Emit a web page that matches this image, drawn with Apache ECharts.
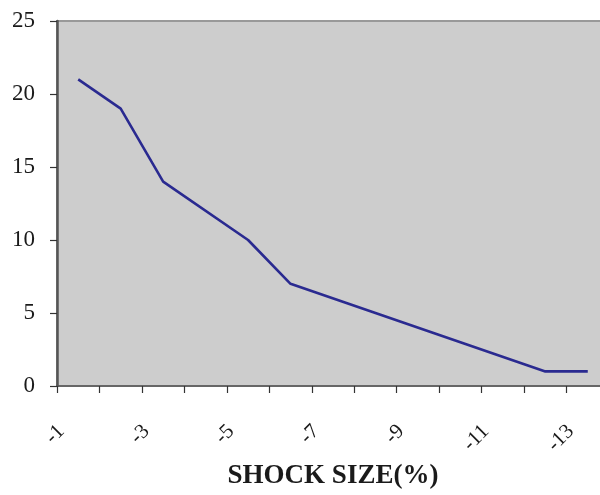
<!DOCTYPE html>
<html><head><meta charset="utf-8">
<script src="https://cdn.jsdelivr.net/npm/echarts@6/dist/echarts.min.js"></script>
<style>html,body{margin:0;padding:0;background:#fff}#c{width:600px;height:495px}</style>
</head><body><div id="c"></div>
<script>
var shockSize = [-1.5, -2.5, -3.5, -5.5, -6.5, -12.5, -13.5];
var values = [21, 19, 14, 10, 7, 1, 1];
var xTickLabels = ['-1', '-3', '-5', '-7', '-9', '-11', '-13'];
var xTitle = 'SHOCK SIZE(%)';

var chart = echarts.init(document.getElementById('c'));
chart.setOption({
  animation: false,
  grid: {left: 57, top: 21, width: 552, height: 365, show: true, backgroundColor: '#cdcdcd', borderColor: '#999', borderWidth: 2, outerBoundsMode: 'none'},
  xAxis: {
    type: 'value', inverse: true, min: -14, max: -1, interval: 1,
    name: xTitle, nameLocation: 'middle', nameGap: 75,
    nameTextStyle: {fontFamily: 'Liberation Serif', fontWeight: 'bold', fontSize: 27, color: '#1a1a1a'},
    axisLine: {show: true, onZero: false, lineStyle: {color: '#555', width: 1.5}},
    axisTick: {show: true, length: 7, inside: false, lineStyle: {color: '#333', width: 1.2}},
    splitLine: {show: false},
    axisLabel: {
      rotate: 45, margin: 38, fontFamily: 'Liberation Serif', fontSize: 21, color: '#1a1a1a',
      verticalAlign: 'top', lineHeight: 12,
      formatter: function (v) { var s = String(v); return xTickLabels.indexOf(s) >= 0 ? s : ''; }
    }
  },
  yAxis: {
    type: 'value', min: 0, max: 25, interval: 5,
    axisLine: {show: true, lineStyle: {color: '#555', width: 2.5}},
    axisTick: {show: true, length: 7, lineStyle: {color: '#333', width: 1.2}},
    splitLine: {show: false},
    axisLabel: {margin: 22, fontFamily: 'Liberation Serif', fontSize: 23, color: '#1a1a1a'}
  },
  series: [{
    type: 'line', data: shockSize.map(function (x, i) { return [x, values[i]]; }),
    showSymbol: false, symbol: 'none',
    lineStyle: {color: '#2a2a90', width: 2.6}
  }]
});
</script></body></html>
